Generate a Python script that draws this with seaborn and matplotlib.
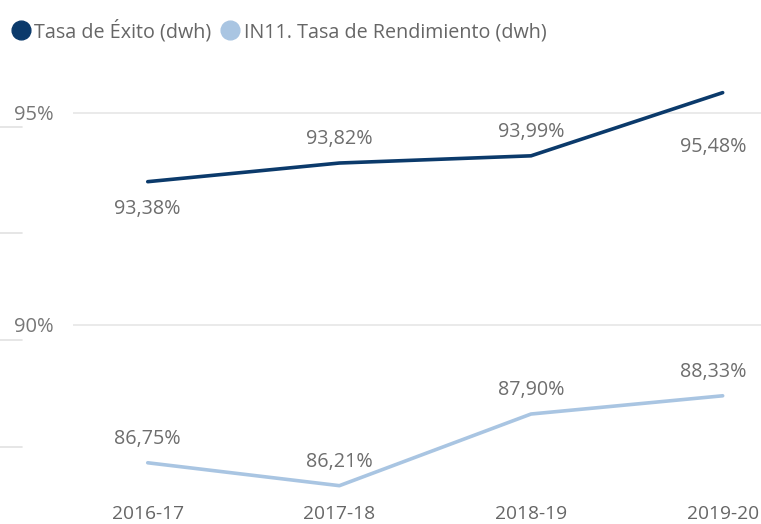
import matplotlib
matplotlib.use("Agg")
import matplotlib.pyplot as plt
from matplotlib.lines import Line2D
import seaborn as sns
import pandas as pd

years = ["2016-17", "2017-18", "2018-19", "2019-20"]
exito = [93.38, 93.82, 93.99, 95.48]
rendimiento = [86.75, 86.21, 87.90, 88.33]
series_names = ["Tasa de Éxito (dwh)", "IN11. Tasa de Rendimiento (dwh)"]
colors = ["#0B3A6B", "#A9C5E2"]

df = pd.DataFrame({
    "year": years * 2,
    "value": exito + rendimiento,
    "serie": [series_names[0]] * 4 + [series_names[1]] * 4,
})

sns.set_theme(style="white")
plt.rcParams['font.family'] = ['Open Sans', 'DejaVu Sans']

fig = plt.figure(figsize=(7.61, 5.24), dpi=100)
ax = fig.add_axes([73 / 761, 1 - 495 / 524, 1 - 73 / 761, (495 - 60) / 524])

sns.lineplot(data=df, x="year", y="value", hue="serie", palette=colors,
             linewidth=2.6, ax=ax, legend=False, sort=False)

ax.set_xlim(-0.39, 3.2)
ax.set_ylim(85.99, 96.25)
ax.set_yticks([90, 95])
ax.set_yticklabels(["90%", "95%"])
ax.yaxis.grid(True, color="#E6E6E6", linewidth=1.2)
ax.xaxis.grid(False)
for s in ax.spines.values():
    s.set_visible(False)
ax.tick_params(axis="y", colors="#777777", labelsize=14.5, pad=14, length=0)
ax.tick_params(axis="x", colors="#666666", labelsize=13.8, pad=7, length=0)
ax.set_xlabel("")
ax.set_ylabel("")

# faint stubs at the left edge (from a neighbouring visual)
for yp in [127, 233, 340, 447]:
    fig.add_artist(Line2D([0, 22 / 761], [1 - yp / 524, 1 - yp / 524],
                          color="#E2E2E2", linewidth=1.2))

def fmt(v):
    return f"{v:.2f}%".replace(".", ",")

off_exito = [(0, -20), (0, 17), (0, 17), (-7, -39)]
off_rend = [(0, 17), (0, 17), (0, 17), (-7, 17)]
for i, (v, o) in enumerate(zip(exito, off_exito)):
    ax.annotate(fmt(v), (i, v), xytext=o, textcoords="offset points",
                ha="center", va="center", fontsize=14.2, color="#6E6E6E")
for i, (v, o) in enumerate(zip(rendimiento, off_rend)):
    ax.annotate(fmt(v), (i, v), xytext=o, textcoords="offset points",
                ha="center", va="center", fontsize=14.2, color="#6E6E6E")

handles = [Line2D([], [], marker="o", linestyle="", color=c, markersize=13.5) for c in colors]
fig.legend(handles, series_names, loc="upper left", bbox_to_anchor=(-8 / 761, 1.0),
           ncol=2, frameon=False, fontsize=14.2, handletextpad=0.25,
           columnspacing=0.5, labelcolor="#666666", borderaxespad=0.8,
           handlelength=0.9, borderpad=0.2)

fig.savefig("out.png", dpi=100)
